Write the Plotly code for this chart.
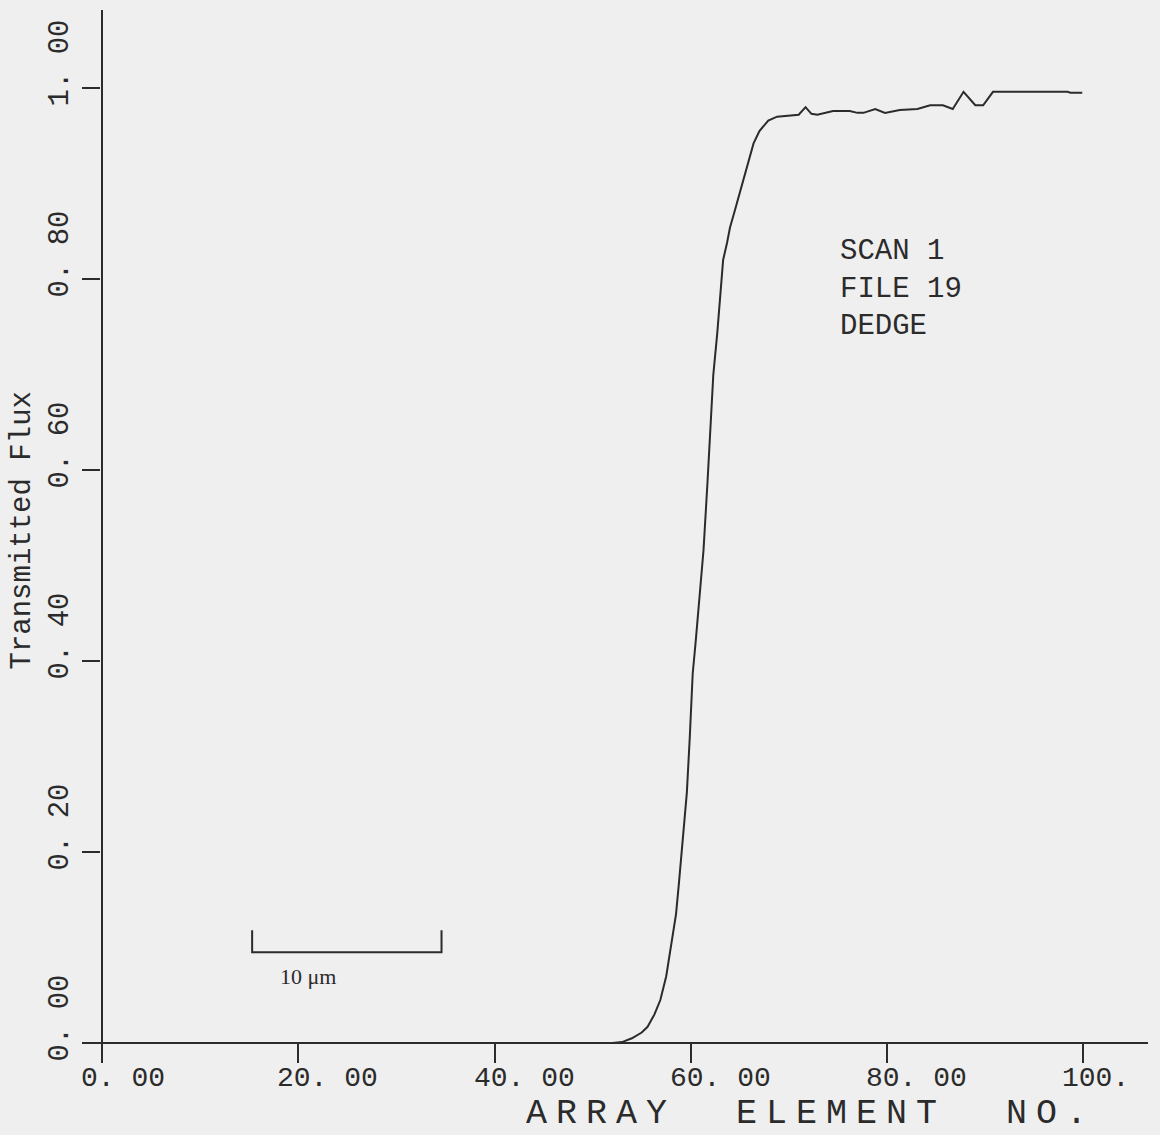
import plotly.graph_objects as go

# ---- data ----
array_element = [0, 52, 53, 54, 55, 55.6, 56.3, 56.9, 57.5, 58.1, 58.5, 58.8, 59.2, 59.6, 59.9,
                 60.2, 60.5, 60.8, 61.0, 61.3, 61.7, 62.0, 62.3, 62.7, 63.0, 63.3, 63.7, 64.0,
                 64.5, 65.0, 65.7, 66.4, 67.0, 67.9, 68.8, 70.4, 71.0, 71.7, 72.3, 72.9, 74.5,
                 76.2, 77.0, 77.6, 78.8, 79.8, 81.3, 83.1, 84.4, 85.7, 86.7, 87.8, 89.0, 89.8,
                 90.8, 98.4, 98.7, 99.9]
transmitted_flux = [0, 0, 0.001, 0.005, 0.011, 0.017, 0.030, 0.045, 0.070, 0.108, 0.135, 0.168,
                    0.213, 0.262, 0.320, 0.387, 0.420, 0.453, 0.480, 0.516, 0.586, 0.639, 0.700,
                    0.743, 0.778, 0.820, 0.838, 0.854, 0.872, 0.890, 0.918, 0.942, 0.955, 0.966,
                    0.970, 0.971, 0.972, 0.980, 0.973, 0.972, 0.976, 0.976, 0.974, 0.974, 0.978,
                    0.974, 0.977, 0.978, 0.982, 0.982, 0.978, 0.996, 0.982, 0.982, 0.996, 0.996,
                    0.995, 0.995]

x_tick_values = [0, 20, 40, 60, 80, 100]
x_tick_labels = ["0. 00", "20. 00", "40. 00", "60. 00", "80. 00", "100."]
y_tick_values = [0.0, 0.2, 0.4, 0.6, 0.8, 1.0]
y_tick_labels = ["0. 00", "0. 20", "0. 40", "0. 60", "0. 80", "1. 00"]

x_title = "ARRAY  ELEMENT  NO."
y_title = "Transmitted Flux"
info_lines = ["SCAN 1", "FILE 19", "DEDGE"]
info_pos = (75.0, 0.848)

scale_bar_x = [15.3, 34.6]
scale_bar_y = 0.095
scale_bar_tick_top = 0.118
scale_bar_label = "10 μm"

# ---- style ----
INK = "#2b2b2b"
PAPER = "#efefef"
MONO = "Liberation Mono, DejaVu Sans Mono, monospace"

fig = go.Figure()

fig.add_trace(go.Scatter(
    x=array_element, y=transmitted_flux, mode="lines",
    line=dict(color=INK, width=2), hoverinfo="skip", showlegend=False))

fig.add_trace(go.Scatter(
    x=[scale_bar_x[0], scale_bar_x[0], scale_bar_x[1], scale_bar_x[1]],
    y=[scale_bar_tick_top, scale_bar_y, scale_bar_y, scale_bar_tick_top],
    mode="lines", line=dict(color=INK, width=2), hoverinfo="skip", showlegend=False))

annotations = []
for v, t in zip(x_tick_values, x_tick_labels):
    annotations.append(dict(x=v, y=0, xref="x", yref="paper", text=t, showarrow=False,
                            xanchor="left", yanchor="middle", xshift=-22, yshift=-15,
                            height=24, borderpad=0,
                            font=dict(family=MONO, size=28, color=INK)))
for v, t in zip(y_tick_values, y_tick_labels):
    annotations.append(dict(x=-0.0197, y=v, xref="paper", yref="y", text=t, showarrow=False,
                            textangle=-90, xanchor="center", yanchor="bottom", yshift=-20,
                            font=dict(family=MONO, size=29, color=INK)))

annotations.append(dict(x=72.3, y=0, xref="x", yref="paper",
                        text='<span style="letter-spacing:9px">' + x_title + '</span>',
                        showarrow=False, xanchor="center", yanchor="middle", yshift=-51,
                        borderpad=0, height=30,
                        font=dict(family=MONO, size=35, color=INK)))
annotations.append(dict(x=-0.056, y=0.537, xref="paper", yref="y", text=y_title,
                        showarrow=False, textangle=-90, xanchor="center", yanchor="middle",
                        font=dict(family=MONO, size=29, color=INK)))
annotations.append(dict(x=info_pos[0], y=info_pos[1], xref="x", yref="y",
                        text="<br>".join(info_lines), showarrow=False, align="left",
                        xanchor="left", yanchor="top",
                        font=dict(family=MONO, size=29, color=INK)))
annotations.append(dict(x=scale_bar_x[0], y=scale_bar_y, xref="x", yref="y",
                        text=scale_bar_label, showarrow=False, xanchor="left", yanchor="top",
                        xshift=26, yshift=-10,
                        font=dict(family="Liberation Serif, serif", size=22, color=INK)))

fig.update_layout(
    width=1160, height=1135,
    margin=dict(l=82, r=12, t=10, b=72),
    paper_bgcolor=PAPER, plot_bgcolor=PAPER,
    showlegend=False,
    annotations=annotations,
    xaxis=dict(range=[-2.04, 106.6], showgrid=False, showline=False,
               zeroline=True, zerolinecolor=INK, zerolinewidth=2,
               tickvals=x_tick_values, ticks="inside", ticklen=20, tickwidth=2,
               tickcolor=INK, showticklabels=False, fixedrange=True),
    yaxis=dict(range=[-0.0209, 1.0817], showgrid=False, showline=False,
               zeroline=True, zerolinecolor=INK, zerolinewidth=2,
               tickvals=y_tick_values, ticks="inside", ticklen=18, tickwidth=2,
               tickcolor=INK, showticklabels=False, fixedrange=True),
)

fig.write_html("out.html")
